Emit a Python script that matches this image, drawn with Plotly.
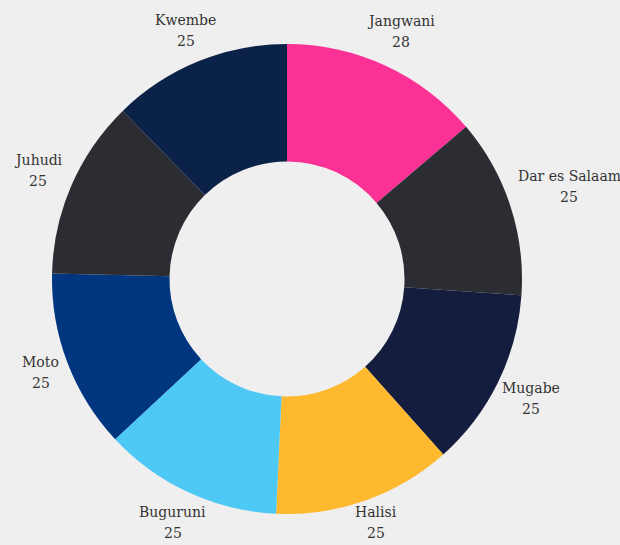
import math
import plotly.graph_objects as go

labels = ["Jangwani", "Dar es Salaam", "Mugabe", "Halisi", "Buguruni", "Moto", "Juhudi", "Kwembe"]
values = [28, 25, 25, 25, 25, 25, 25, 25]
colors = ["#fb3196", "#2b2d33", "#141d3d", "#ffb92f", "#4ec8f4", "#003580", "#2b2d33", "#0a2148"]

W, H = 620, 545
ML, MR, MT, MB = 0, 46, 44, 31
FONT = "DejaVu Serif"
FS = 14
TXT = "#333333"

fig = go.Figure(go.Pie(
    labels=labels,
    values=values,
    hole=0.5,
    sort=False,
    direction="clockwise",
    rotation=0,
    marker=dict(colors=colors, line=dict(width=0)),
    textinfo="none",
    showlegend=False,
    automargin=False,
    hoverinfo="label+value",
))

# label placement derived from slice angles
pw, ph = W - ML - MR, H - MT - MB
cx, cy = ML + pw / 2, MT + ph / 2
R = min(pw, ph) / 2
total = sum(values)
cum = 0
gap = 7
line_gap = 10.5
half_h = 18.5
char_w = 8.0

def to_paper(px, py):
    return (px - ML) / pw, (H - MB - py) / ph

for lab, v in zip(labels, values):
    mid = (cum + v / 2) / total * 2 * math.pi
    cum += v
    s, c = math.sin(mid), math.cos(mid)
    w = max(len(lab), len(str(v))) * char_w
    ext = (w / 2) * abs(s) + half_h * abs(c)
    d = R + gap + ext
    tx, ty = cx + d * s, cy - d * c
    ty = min(ty, H - 12 - line_gap)  # keep text inside the page
    for txt, dy in ((lab, -line_gap), (str(v), line_gap)):
        px, py = to_paper(tx, ty + dy)
        fig.add_annotation(x=px, y=py, xref="paper", yref="paper", text=txt,
                           showarrow=False, xanchor="center", yanchor="middle",
                           font=dict(family=FONT, size=FS, color=TXT))

fig.update_layout(
    width=W, height=H,
    margin=dict(l=ML, r=MR, t=MT, b=MB),
    paper_bgcolor="#efefef",
    plot_bgcolor="#efefef",
)
fig.write_html("out.html")
